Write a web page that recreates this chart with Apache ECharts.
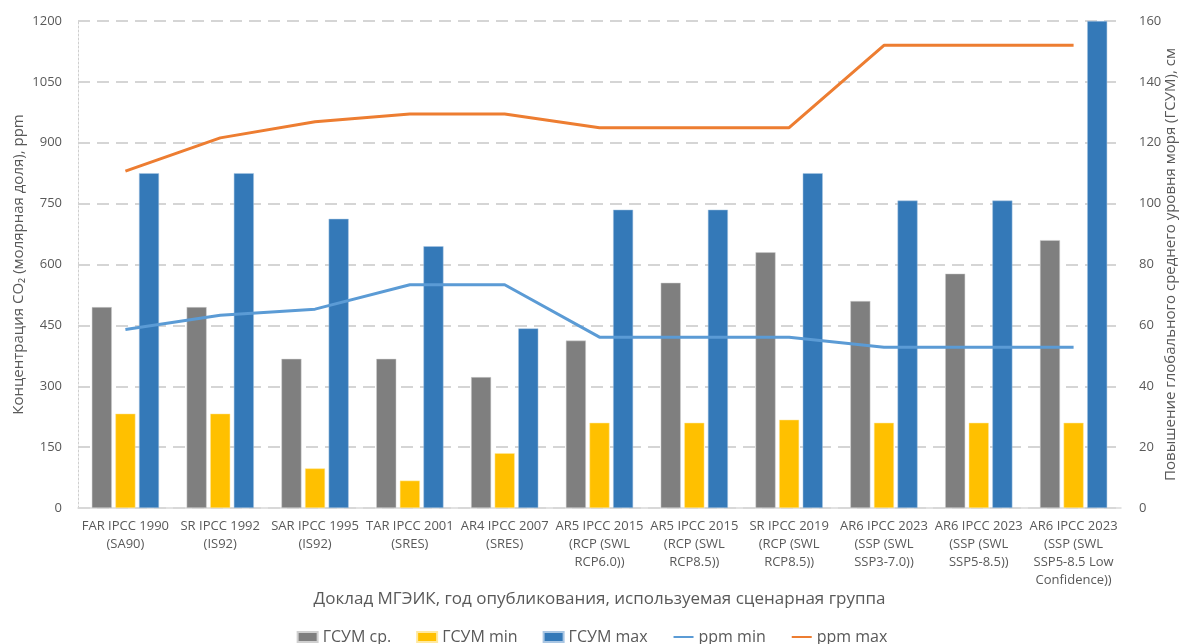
<!DOCTYPE html>
<html>
<head>
<meta charset="utf-8">
<script src="https://cdn.jsdelivr.net/npm/echarts@6/dist/echarts.min.js"></script>
<style>
html,body{margin:0;padding:0;background:#fff;}
#chart{width:1184px;height:644px;}
</style>
</head>
<body>
<div id="chart"></div>
<script>
const categories = [
  "FAR IPCC 1990\n(SA90)",
  "SR IPCC 1992\n(IS92)",
  "SAR IPCC 1995\n(IS92)",
  "TAR IPCC 2001\n(SRES)",
  "AR4 IPCC 2007\n(SRES)",
  "AR5 IPCC 2015\n(RCP (SWL\nRCP6.0))",
  "AR5 IPCC 2015\n(RCP (SWL\nRCP8.5))",
  "SR IPCC 2019\n(RCP (SWL\nRCP8.5))",
  "AR6 IPCC 2023\n(SSP (SWL\nSSP3-7.0))",
  "AR6 IPCC 2023\n(SSP (SWL\nSSP5-8.5))",
  "AR6 IPCC 2023\n(SSP (SWL\nSSP5-8.5 Low\nConfidence))"
];
const gsumAvg = [66, 66, 49, 49, 43, 55, 74, 84, 68, 77, 88];
const gsumMin = [31, 31, 13, 9, 18, 28, 28, 29, 28, 28, 28];
const gsumMax = [110, 110, 95, 86, 59, 98, 98, 110, 101, 101, 160];
const ppmMin = [440, 475, 490, 550, 550, 421, 421, 421, 396, 396, 396];
const ppmMax = [830, 912, 952, 971, 971, 937, 937, 937, 1140, 1140, 1140];

const seriesNames = ["ГСУМ ср.", "ГСУМ min", "ГСУМ max", "ppm min", "ppm max"];
const leftAxisName = "Концентрация CO₂ (молярная доля), ppm";
const rightAxisName = "Повышение глобального среднего уровня моря (ГСУМ), см";
const xAxisName = "Доклад МГЭИК, год опубликования, используемая сценарная группа";

const FONT = "'Open Sans', 'Noto Sans', sans-serif";
const TXT = "#595959";

const chart = echarts.init(document.getElementById('chart'), null, {renderer: 'canvas'});
chart.setOption({
  animation: false,
  backgroundColor: '#fff',
  textStyle: {fontFamily: FONT},
  grid: {left: 78, right: 63, top: 21, bottom: 136, containLabel: false, outerBoundsMode: 'none'},
  legend: {
    left: 'center',
    top: 624,
    itemWidth: 20,
    itemHeight: 10,
    itemGap: 25,
    textStyle: {color: TXT, fontSize: 16, fontFamily: FONT},
    data: [
      {name: seriesNames[0], icon: 'rect'},
      {name: seriesNames[1], icon: 'rect'},
      {name: seriesNames[2], icon: 'rect'},
      {name: seriesNames[3], itemStyle: {opacity: 0}},
      {name: seriesNames[4], itemStyle: {opacity: 0}}
    ]
  },
  xAxis: {
    type: 'category',
    data: categories,
    boundaryGap: true,
    name: xAxisName,
    nameLocation: 'middle',
    nameGap: 83,
    nameMoveOverlap: false,
    nameTextStyle: {color: TXT, fontSize: 17, fontFamily: FONT},
    axisLine: {show: true, lineStyle: {color: '#d9d9d9', width: 1.5}},
    axisTick: {show: false},
    axisLabel: {interval: 0, color: TXT, fontSize: 13, lineHeight: 18, margin: 9, fontFamily: FONT}
  },
  yAxis: [
    {
      type: 'value',
      min: 0, max: 1200, interval: 150,
      position: 'left',
      name: leftAxisName,
      nameLocation: 'middle',
      nameGap: 52,
      nameMoveOverlap: false,
      nameRotate: 90,
      nameTextStyle: {color: TXT, fontSize: 15, fontFamily: FONT},
      axisLine: {show: true, lineStyle: {color: '#cfcfcf', type: [2, 2], width: 1}},
      axisTick: {show: false},
      axisLabel: {color: TXT, fontSize: 13, margin: 16, fontFamily: FONT, formatter: function (v) { return String(v); }},
      splitLine: {show: true, lineStyle: {color: '#c8c8c8', type: [12, 7], width: 1.5}}
    },
    {
      type: 'value',
      min: 0, max: 160, interval: 20,
      position: 'right',
      name: rightAxisName,
      nameLocation: 'middle',
      nameGap: 42,
      nameMoveOverlap: false,
      nameRotate: 90,
      nameTextStyle: {color: TXT, fontSize: 15, fontFamily: FONT},
      axisLine: {show: false},
      axisTick: {show: false},
      axisLabel: {color: TXT, fontSize: 13, margin: 18, fontFamily: FONT},
      splitLine: {show: false}
    }
  ],
  series: [
    {name: seriesNames[0], type: 'bar', yAxisIndex: 1, data: gsumAvg, barWidth: 20, barGap: '18%',
     itemStyle: {color: '#7f7f7f', borderColor: '#d0d0d0', borderWidth: 0.5}},
    {name: seriesNames[1], type: 'bar', yAxisIndex: 1, data: gsumMin, barWidth: 20, barGap: '18%',
     itemStyle: {color: '#ffc000', borderColor: '#ffe9a0', borderWidth: 0.5}},
    {name: seriesNames[2], type: 'bar', yAxisIndex: 1, data: gsumMax, barWidth: 20, barGap: '18%',
     itemStyle: {color: '#3479b8', borderColor: '#a9c6e3', borderWidth: 0.5}},
    {name: seriesNames[3], type: 'line', yAxisIndex: 0, data: ppmMin, symbol: 'none',
     lineStyle: {color: '#5b9bd5', width: 3}, itemStyle: {color: '#5b9bd5'}, z: 5},
    {name: seriesNames[4], type: 'line', yAxisIndex: 0, data: ppmMax, symbol: 'none',
     lineStyle: {color: '#ed7d31', width: 3}, itemStyle: {color: '#ed7d31'}, z: 5}
  ]
});
</script>
</body>
</html>
